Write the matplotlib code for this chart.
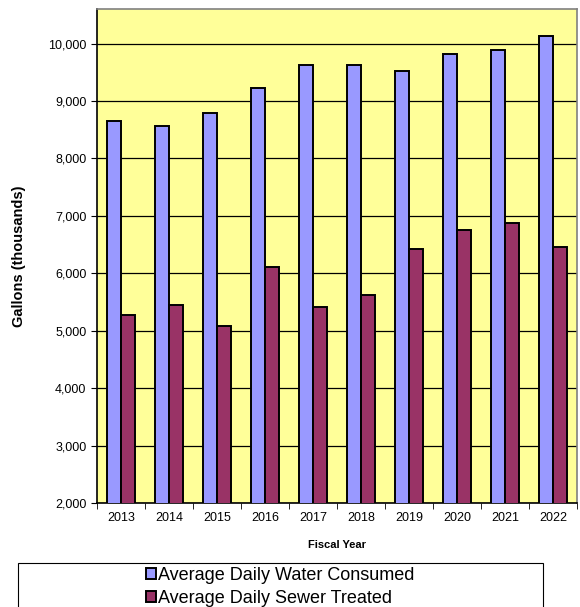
import matplotlib
matplotlib.use("Agg")
import matplotlib.pyplot as plt
import numpy as np
from matplotlib.patches import Rectangle
from matplotlib.ticker import FuncFormatter, FixedLocator

plt.rcParams['font.family'] = ['Liberation Sans', 'DejaVu Sans']

years = ['2013', '2014', '2015', '2016', '2017', '2018', '2019', '2020', '2021', '2022']
water = [8655, 8570, 8800, 9225, 9625, 9630, 9530, 9815, 9885, 10125]
sewer = [5275, 5455, 5085, 6105, 5420, 5625, 6430, 6750, 6875, 6465]

fig = plt.figure(figsize=(5.8, 6.07), dpi=100)
ax = fig.add_axes([0.167, 0.171, 0.828, 0.814])
ax.set_facecolor('#FFFF99')

x = np.arange(len(years))
w = 0.29
ax.bar(x - w/2, water, w, color='#9999FF', edgecolor='black', linewidth=1.4,
       label='Average Daily Water Consumed', zorder=3)
ax.bar(x + w/2, sewer, w, color='#993366', edgecolor='black', linewidth=1.4,
       label='Average Daily Sewer Treated', zorder=3)

ax.set_xlim(-0.5, len(years) - 0.5)
ax.set_ylim(2000, 10600)
ax.set_yticks(range(2000, 10001, 1000))
ax.yaxis.set_major_formatter(FuncFormatter(lambda v, p: f'{int(v):,}'))
ax.grid(axis='y', color='black', linewidth=0.9, zorder=1)

ax.set_xticks(x)
ax.set_xticklabels(years)
ax.tick_params(axis='x', which='major', length=0, pad=6, labelsize=9)
ax.xaxis.set_minor_locator(FixedLocator(np.arange(-0.5, len(years), 1)))
ax.tick_params(axis='x', which='minor', length=4, color='black')
ax.tick_params(axis='y', length=4, labelsize=9, color='black')

for s in ['top', 'right']:
    ax.spines[s].set_color('#808080')
for s in ['left', 'bottom']:
    ax.spines[s].set_color('black')
for s in ax.spines.values():
    s.set_linewidth(1.2)

ax.set_xlabel('Fiscal Year', fontsize=8, fontweight='bold', labelpad=12)
ax.set_ylabel('Gallons (thousands)', fontsize=10.5, fontweight='bold', labelpad=16)

fig.patches.append(Rectangle((18/580, -0.05), (543 - 18)/580, (607 - 563)/607 + 0.05,
                             transform=fig.transFigure, fill=False,
                             edgecolor='black', linewidth=0.8))
fig.legend(loc='center', bbox_to_anchor=(280/580, 1 - 587/607), frameon=False,
           fontsize=13, handlelength=0.55, handleheight=0.55, handletextpad=0.12,
           labelspacing=0.3, borderpad=0)

fig.savefig('out.png', dpi=100)
